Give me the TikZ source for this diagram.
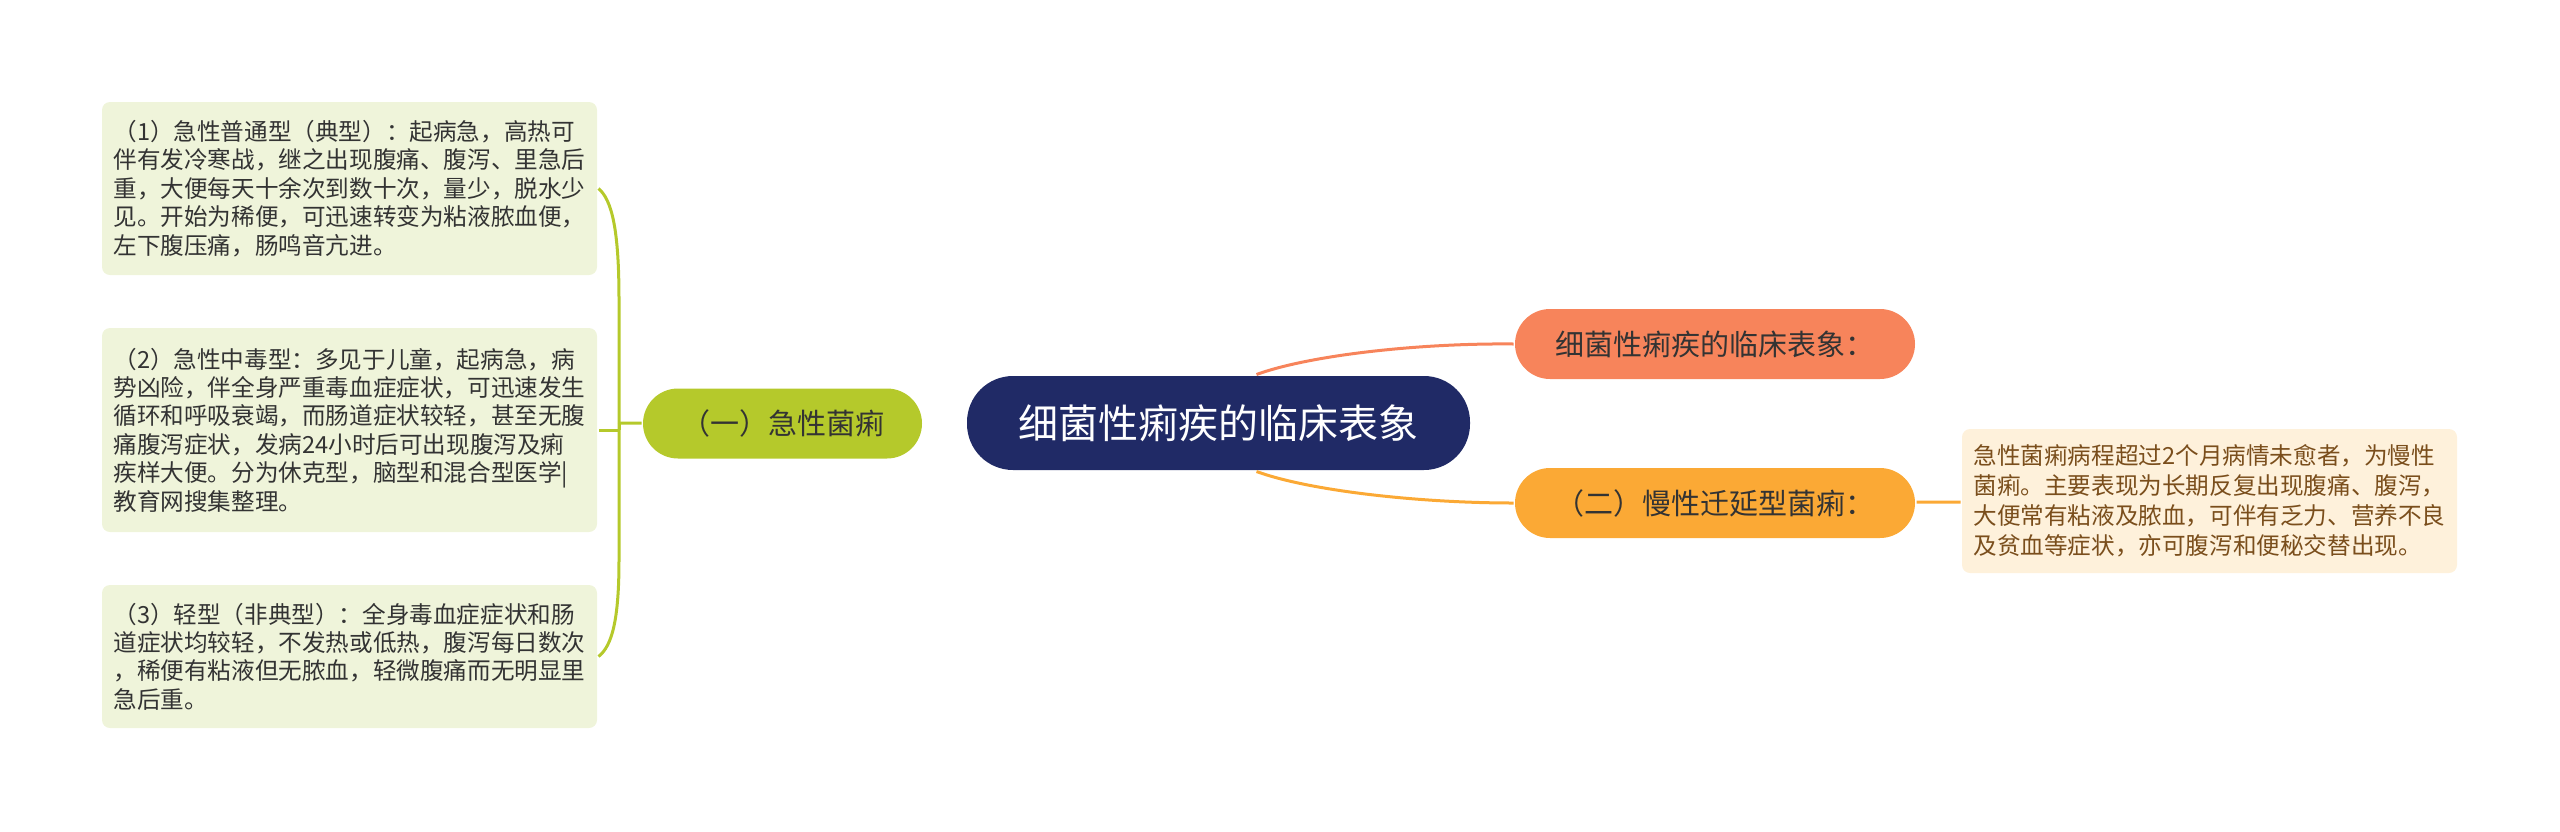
\documentclass[tikz,border=0pt]{standalone}
\usepackage{fontspec}
\newfontfamily\cjk{Noto Sans CJK SC}
\usetikzlibrary{arrows}

\definecolor{navy}{HTML}{202A66}
\definecolor{olive}{HTML}{B5C92B}
\definecolor{palegreen}{HTML}{EFF4DA}
\definecolor{salmon}{HTML}{F7845B}
\definecolor{amber}{HTML}{FBA935}
\definecolor{cream}{HTML}{FEF1DB}
\definecolor{brown}{HTML}{7A4E1C}
\definecolor{ink}{HTML}{333333}

\begin{document}
\begin{tikzpicture}[x=0.5pt,y=-0.5pt,-,line width=1.5pt,
  main node/.style={rounded corners=23pt,fill=navy,text=white,minimum width=251.5pt,
    minimum height=47pt,font=\cjk\fontsize{20pt}{24pt}\selectfont},
  branch node/.style={rounded corners=17.5pt,text=ink,minimum height=35pt,
    font=\cjk\fontsize{14.5pt}{17pt}\selectfont},
  sub node/.style={rounded corners=4pt,fill=palegreen,text=ink,align=left,
    minimum width=247.5pt,font=\cjk\fontsize{11.8pt}{14.2pt}\selectfont},
  note node/.style={rounded corners=4pt,fill=cream,text=brown,align=left,
    minimum width=247.5pt,minimum height=72pt,font=\cjk\fontsize{11.8pt}{15pt}\selectfont}]

  \useasboundingbox (0,0) rectangle (2560,831);

  \node[main node] (root) at (1218.5,423) {细菌性痢疾的临床表象};
  \node[branch node, fill=olive, minimum width=139.5pt] (acute) at (782.5,423.5) {（一）急性菌痢};
  \node[branch node, fill=salmon, minimum width=200pt] (sign) at (1715,344) {细菌性痢疾的临床表象：};
  \node[branch node, fill=amber, minimum width=200pt] (chronic) at (1715,503) {（二）慢性迁延型菌痢：};

  \node[sub node, minimum height=86.5pt] (type1) at (349.5,188.5)
    {（1）急性普通型（典型）：起病急，高热可\\伴有发冷寒战，继之出现腹痛、腹泻、里急后\\重，大便每天十余次到数十次，量少，脱水少\\见。开始为稀便，可迅速转变为粘液脓血便，\\左下腹压痛，肠鸣音亢进。};
  \node[sub node, minimum height=102pt] (type2) at (349.5,430)
    {（2）急性中毒型：多见于儿童，起病急，病\\势凶险，伴全身严重毒血症症状，可迅速发生\\循环和呼吸衰竭，而肠道症状较轻，甚至无腹\\痛腹泻症状，发病24小时后可出现腹泻及痢\\疾样大便。分为休克型，脑型和混合型医学|\\教育网搜集整理。};
  \node[sub node, minimum height=71.5pt] (type3) at (349.5,656.5)
    {（3）轻型（非典型）：全身毒血症症状和肠\\道症状均较轻，不发热或低热，腹泻每日数次\\，稀便有粘液但无脓血，轻微腹痛而无明显里\\急后重。};

  \node[note node] (detail) at (2209.5,501)
    {急性菌痢病程超过2个月病情未愈者，为慢性\\菌痢。主要表现为长期反复出现腹痛、腹泻，\\大便常有粘液及脓血，可伴有乏力、营养不良\\及贫血等症状，亦可腹泻和便秘交替出现。};

  \coordinate (fork) at (619,423);

  % left side
  \path[draw=olive]
    (acute) edge (fork)
    (fork) edge (fork |- type2.east)
    (fork |- type2.east) edge (type2.east);
  \draw[olive] (fork) -- (619,300) .. controls (619,230) and (612,200) .. (type1.east);
  \draw[olive] (fork) -- (619,560) .. controls (619,620) and (612,646) .. (type3.east);

  % right side
  \draw[salmon] ([xshift=19pt]root.north) .. controls (1310,355) and (1420,343) .. (sign.west);
  \draw[amber] ([xshift=19pt]root.south) .. controls (1310,491) and (1420,503) .. (chronic.west);
  \path[draw=amber] (chronic) edge (detail);
\end{tikzpicture}
\end{document}
